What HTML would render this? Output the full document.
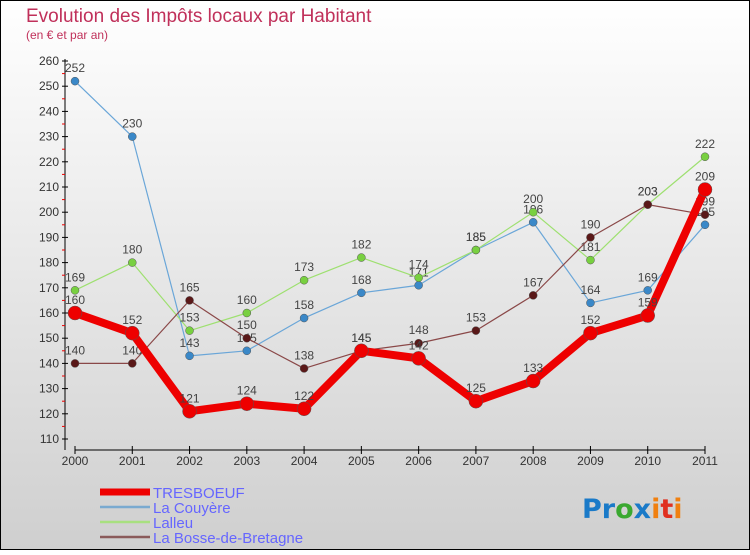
<!DOCTYPE html>
<html><head><meta charset="utf-8"><style>
html,body{margin:0;padding:0}
body{width:750px;height:550px;overflow:hidden;font-family:"Liberation Sans",sans-serif}
</style></head><body>
<svg id="c" width="750" height="550" xmlns="http://www.w3.org/2000/svg">
<defs><linearGradient id="bg" x1="0" y1="0" x2="0" y2="1"><stop offset="0" stop-color="#ffffff"/><stop offset="1" stop-color="#cfcfcf"/></linearGradient></defs>
<rect x="0.5" y="0.5" width="749" height="549" fill="url(#bg)" stroke="#000"/>
<text x="26" y="22" font-size="19" fill="#c0305a" font-weight="300">Evolution des Impôts locaux par Habitant</text>
<text x="26" y="39" font-size="12" fill="#c0305a">(en € et par an)</text>
<g id="axes"></g><g id="series"></g><g id="legend"></g>
<text x="582" y="518" font-size="27" font-family="DejaVu Sans" font-weight="bold"><tspan fill="#1a7ac8">Pr</tspan><tspan fill="#3aa830">o</tspan><tspan fill="#1a7ac8">x</tspan><tspan fill="#f08010">i</tspan><tspan fill="#e03020">t</tspan><tspan fill="#f08010">i</tspan></text>
</svg>
<script>
const years=[2000,2001,2002,2003,2004,2005,2006,2007,2008,2009,2010,2011];
const yTicks=[110,120,130,140,150,160,170,180,190,200,210,220,230,240,250,260];
const tresboeuf=[160,152,121,124,122,145,142,125,133,152,159,209];
const couyere=[252,230,143,145,158,168,171,185,196,164,169,195];
const lalleu=[169,180,153,160,173,182,174,185,200,181,203,222];
const bosse=[140,140,165,150,138,145,148,153,167,190,203,199];
const NS="http://www.w3.org/2000/svg";
const X=i=>75+i*(630/11);
const Y=v=>61+(260-v)*2.52;
function mk(tag,attrs,parent){const e=document.createElementNS(NS,tag);for(const k in attrs)e.setAttribute(k,attrs[k]);parent.appendChild(e);return e;}
const ax=document.getElementById('axes');
let l=mk('line',{x1:65,y1:59,x2:65,y2:450,stroke:'#000'},ax);


l=mk('line',{x1:75,y1:450,x2:705,y2:450,stroke:'#000'},ax);


yTicks.forEach(v=>{
 mk('line',{x1:62,y1:Y(v),x2:68,y2:Y(v),stroke:'#000'},ax);
 if(v<260) mk('line',{x1:62,y1:Y(v+5),x2:65,y2:Y(v+5),stroke:'#e00'},ax);
 const t=mk('text',{x:59,y:Y(v)+4,'font-size':12,'text-anchor':'end',fill:'#333'},ax);
 t.textContent=v;
 
 
});
years.forEach((yr,i)=>{
 mk('line',{x1:X(i),y1:446,x2:X(i),y2:454,stroke:'#000'},ax);
 const t=mk('text',{x:X(i),y:465,'font-size':12,'text-anchor':'middle',fill:'#333'},ax);
 t.textContent=yr;
 
 
});
const sg=document.getElementById('series');
function draw(data,name,color,w,r,dot){
 const g=mk('g',{},sg);
 
 
 const p=mk('polyline',{points:data.map((v,i)=>X(i)+','+Y(v)).join(' '),fill:'none',stroke:color,'stroke-width':w,'stroke-linejoin':'round'},g);
 
 
 data.forEach((v,i)=>{
  const c=mk('circle',{cx:X(i),cy:Y(v),r:r,fill:dot,stroke:'#555','stroke-width':0.5},g);
  
  
  const t=mk('text',{x:X(i),y:Y(v)-9,'font-size':12,'text-anchor':'middle',fill:'#444'},g);
  t.textContent=v;
  
  
 });
}
draw(couyere,'la-couyere','#6aa6d8',1.2,4,'#3a88c8');
draw(lalleu,'lalleu','#9ee070',1.2,4,'#78d040');
draw(bosse,'la-bosse-de-bretagne','#8a4848',1.2,4,'#5a1818');
draw(tresboeuf,'tresboeuf','#ee0000',8,7,'#ee0000');
const lg=document.getElementById('legend');
const items=[['TRESBOEUF','#ee0000',7],['La Couyère','#7aaad0',2.5],['Lalleu','#a8e080',2.5],['La Bosse-de-Bretagne','#8a5a5a',2.5]];
items.forEach((it,i)=>{
 const y=492+i*15;
 const g=mk('g',{},lg);
 
 
 mk('line',{x1:100,y1:y,x2:150,y2:y,stroke:it[1],'stroke-width':it[2]},g);
 const t=mk('text',{x:153,y:y+6,'font-size':15,fill:'#6666ff'},g);
 t.textContent=it[0];
 
 
});
</script>
</body></html>
